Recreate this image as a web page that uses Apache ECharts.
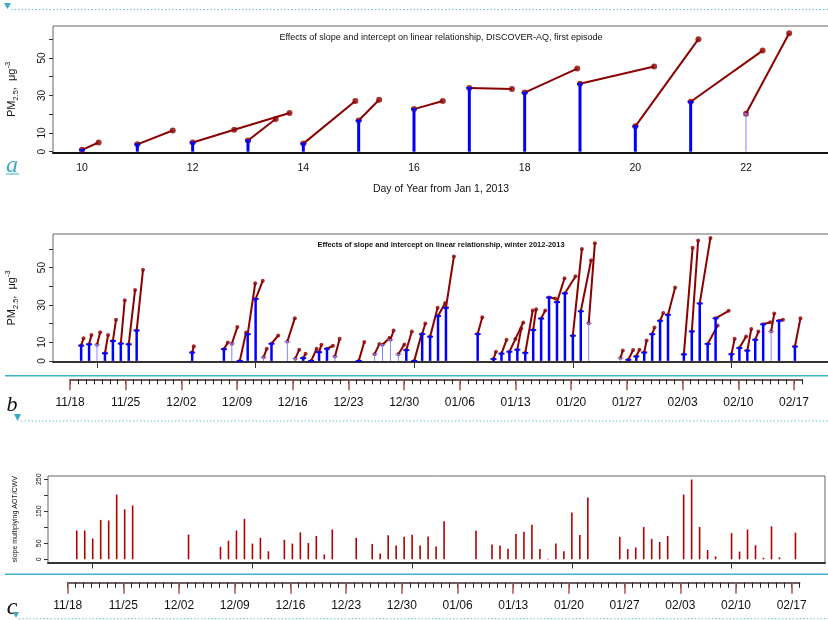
<!DOCTYPE html>
<html>
<head>
<meta charset="utf-8">
<script src="https://cdn.jsdelivr.net/npm/echarts@6/dist/echarts.min.js"></script>
<style>
  html, body { margin: 0; padding: 0; background: #fff; }
  #chart { width: 828px; height: 620px; }
</style>
</head>
<body>
<div id="chart"></div>
<script>
// days are counted from Dec 31, 2012 (day 0), so day 10 = Jan 10
const winterDays = [-42, -41, -40, -39, -38, -37, -36, -35, -28, -24, -23, -22, -21, -20, -19, -18,
  -16, -15, -14, -13, -12, -11, -10, -7, -5, -4, -3, -2, -1, 0, 1, 2, 3, 4, 8,
  10, 11, 12, 13, 14, 15, 16, 17, 18, 19, 20, 21, 22, 26, 27, 28, 29, 30, 31, 32,
  34, 35, 36, 37, 38, 40, 41, 42, 43, 44, 45, 46, 48];
// intercept (blue stems)
const winterIntercept = [8.2, 8.9, 8.6, 4.1, 10.7, 9.3, 8.9, 16.3, 4.5, 6.3, 9.2, 0, 14.3, 33.2, 2.0, 9.2,
  10.4, 1.2, 1.5, 0, 4.7, 6.5, 2.4, 0, 3.6, 8.6, 11.3, 3.5, 5.8, 0, 14.4, 13.0, 24.0, 28.5, 14.4,
  1.0, 3.9, 4.9, 6.0, 4.3, 16.6, 22.7, 34.0, 31.5, 36.2, 13.5, 26.6, 20.2, 1.5, 0.6, 2.4, 4.5, 14.3, 21.5, 24.7,
  3.5, 15.8, 30.8, 9.1, 22.8, 3.6, 6.9, 5.5, 11.3, 19.6, 15.8, 21.5, 7.7];
// last point of each red track
const winterEndDay = [-41.7, -40.7, -39.6, -38.6, -37.6, -36.5, -35.2, -34.2, -27.8, -23.5, -22.3, -21.2, -20.05, -19.1, -18.6, -17.15,
  -15.05, -14.5, -13.7, -12.3, -11.7, -10.25, -9.4, -6.3, -4.4, -3.1, -2.6, -1.25, -0.3, 0.9, 1.4, 2.95, 3.9, 5.0, 8.58,
  10.3, 11.64, 13.75, 13.5, 14.94, 15.37, 16.52, 17.77, 18.95, 20.34, 21.14, 22.3, 22.78, 26.3, 27.6, 28.4, 29.3, 30.3, 31.4, 32.9,
  35.1, 35.8, 37.35, 38.25, 39.65, 40.4, 41.85, 42.5, 43.4, 44.9, 45.4, 46.5, 48.7];
const winterEndPM = [12.1, 13.9, 15.4, 13.9, 22.1, 32.5, 38.0, 48.8, 7.9, 9.9, 18.1, 15.2, 41.6, 42.9, 6.5, 13.6,
  22.9, 6.0, 3.8, 6.5, 8.7, 8.1, 11.9, 10.1, 9.0, 12.4, 16.3, 8.8, 15.7, 14.0, 20.0, 28.5, 31.0, 56.0, 23.4,
  4.9, 11.3, 20.6, 17.4, 27.0, 27.7, 27.0, 33.4, 44.3, 45.4, 60.0, 53.9, 63.1, 5.6, 5.8, 6.0, 10.9, 17.9, 25.6, 39.3,
  60.6, 64.5, 65.9, 18.9, 26.8, 11.8, 13.1, 17.1, 15.8, 20.7, 25.4, 22.0, 22.8];
// [day, x, y] of a visible bend in a track
const bendPoints = [[12, 12.75, 11.7]];
// days drawn with a thin, light stem (few observations)
const sparseDays = [-40, -23, -19, -16, -15, -10, -5, -4, -3, -2, 22, 26, 45];
const firstEpisode = [10, 22];

// slope multiplying AOT/CWV, same days as winterDays
const slopeAOT = [90, 90, 65, 123, 121, 202, 156, 168, 77, 39, 58, 90, 126, 49, 67, 25,
  61, 49, 84, 51, 73, 15, 93, 67, 48, 18, 75, 43, 70, 77, 43, 71, 40, 119, 89,
  46, 43, 33, 79, 86, 108, 32, 2, 49, 25, 146, 76, 193, 70, 32, 37, 101, 64, 54, 73,
  202, 249, 101, 29, 9, 82, 24, 93, 44, 5, 103, 6, 83];

// tick labels
const dayTicksA = [10, 12, 14, 16, 18, 20, 22];
const winterTicks = [-40, -20, 0, 20, 40];
const pmTicks = [0, 10, 20, 30, 40, 50, 60];
const pmLabels = [0, 10, 30, 50];
const slopeTicks = [0, 50, 100, 150, 200, 250];
const slopeLabels = [0, 50, 150, 250];
const dateLabels = ['11/18', '11/25', '12/02', '12/09', '12/16', '12/23', '12/30',
  '01/06', '01/13', '01/20', '01/27', '02/03', '02/10', '02/17'];

const RED = '#8b0000';
const TEAL = '#3aabc2';
const FONT = 'Liberation Sans, Arial, sans-serif';

const weekTicks = dateLabels.map((_, i) => i * 7);
const dayIdx = [];
for (let i = 0; i <= 92; i++) dayIdx.push(i);

function stems(idx, rows, cap, normalW, normalC) {
  return {
    type: 'custom', xAxisIndex: idx, yAxisIndex: idx, silent: true, z: 5,
    data: rows,
    renderItem: function (params, api) {
      const x = api.value(0), v = api.value(1), thin = api.value(2);
      const p0 = api.coord([x, 0]), p1 = api.coord([x, v]);
      const stroke = thin ? '#8585ff' : normalC;
      const kids = [{
        type: 'line',
        shape: { x1: p0[0], y1: p0[1], x2: p1[0], y2: p1[1] },
        style: { stroke: stroke, lineWidth: thin ? 1 : normalW }
      }];
      if (cap) {
        kids.push({
          type: 'line',
          shape: { x1: p1[0] - cap, y1: p1[1], x2: p1[0] + cap, y2: p1[1] },
          style: { stroke: stroke, lineWidth: thin ? 1 : 1.8 }
        });
      }
      return { type: 'group', children: kids };
    }
  };
}

function tracks(idx, days, lw, size) {
  const lineData = [], dots = [];
  days.forEach(d => {
    const i = winterDays.indexOf(d);
    const pts = [[d, winterIntercept[i]]];
    bendPoints.filter(b => b[0] === d).forEach(b => pts.push([b[1], b[2]]));
    pts.push([winterEndDay[i], winterEndPM[i]]);
    lineData.push({ coords: pts });
    pts.forEach(p => dots.push(p));
  });
  return [{
    type: 'lines', coordinateSystem: 'cartesian2d', xAxisIndex: idx, yAxisIndex: idx,
    polyline: true, silent: true, z: 3, data: lineData,
    lineStyle: { color: RED, width: lw, opacity: 1 }
  }, {
    type: 'scatter', xAxisIndex: idx, yAxisIndex: idx, silent: true, z: 4,
    data: dots, symbolSize: size, itemStyle: { color: RED }
  }];
}

const episodeDays = winterDays.filter(d => d >= firstEpisode[0] && d <= firstEpisode[1]);
const stemRows = days => days.map(d => [d, winterIntercept[winterDays.indexOf(d)], sparseDays.includes(d) ? 1 : 0]);

const pmName = {
  name: '{m|PM}{s|2.5}{m|,  \u03bcg}{p|-3}',
  nameLocation: 'middle', nameRotate: 90, nameGap: 33,
  nameTextStyle: {
    rich: {
      m: { fontSize: 11, color: '#111', lineHeight: 16, fontFamily: FONT },
      s: { fontSize: 7.5, color: '#111', lineHeight: 16, verticalAlign: 'bottom', fontFamily: FONT },
      p: { fontSize: 7.5, color: '#111', lineHeight: 16, verticalAlign: 'top', fontFamily: FONT }
    }
  }
};

function pmAxis(idx, min, max) {
  return Object.assign({
    gridIndex: idx, type: 'value', min: min, max: max,
    axisLine: { show: false, onZero: false },
    axisTick: { customValues: pmTicks, length: 4, lineStyle: { color: '#333' } },
    axisLabel: { customValues: pmLabels, rotate: 90, fontSize: 10, color: '#111', margin: 6 },
    splitLine: { show: false }
  }, pmName);
}

function plotX(idx, min, max) {
  return {
    gridIndex: idx, type: 'value', min: min, max: max,
    axisLine: { onZero: false, lineStyle: { color: '#333', width: 2 } },
    axisTick: { customValues: winterTicks, length: 6, lineStyle: { color: '#333' } },
    axisLabel: { show: false }, splitLine: { show: false }
  };
}

function minorX(idx) {
  return {
    gridIndex: idx, type: 'value', min: 0, max: 92,
    axisLine: { onZero: false, lineStyle: { color: '#3a2a2a', width: 1.5 } },
    axisTick: { customValues: dayIdx, length: 5, lineStyle: { color: '#222' } },
    axisLabel: { show: false }, splitLine: { show: false }
  };
}

function majorX(idx) {
  return {
    gridIndex: idx, type: 'value', min: 0, max: 91,
    axisLine: { show: false, onZero: false },
    axisTick: { show: true, customValues: weekTicks, length: 11, lineStyle: { color: '#a85050', width: 1.5 } },
    axisLabel: { customValues: weekTicks, formatter: v => dateLabels[Math.round(v / 7)], fontSize: 12, color: '#111', margin: 17 },
    splitLine: { show: false }
  };
}

const hiddenY = i => ({ gridIndex: i, type: 'value', show: false, min: 0, max: 1 });
const boxGrid = { show: true, borderColor: '#666', borderWidth: 1, outerBoundsMode: 'none', containLabel: false };
const bare = { outerBoundsMode: 'none', containLabel: false };

const chart = echarts.init(document.getElementById('chart'));
chart.setOption({
  animation: false,
  textStyle: { fontFamily: FONT },
  grid: [
    Object.assign({ left: 53, top: 26, width: 776, height: 127 }, boxGrid),
    Object.assign({ left: 53, top: 234, width: 776, height: 128 }, boxGrid),
    Object.assign({ left: 48, top: 476, width: 777, height: 86.5 }, boxGrid),
    Object.assign({ left: 70, top: 369.3, width: 732, height: 10 }, bare),
    Object.assign({ left: 70, top: 369.3, width: 724, height: 10 }, bare),
    Object.assign({ left: 67.7, top: 572.7, width: 732, height: 10 }, bare),
    Object.assign({ left: 67.7, top: 572.7, width: 724, height: 10 }, bare)
  ],
  xAxis: [
    {
      gridIndex: 0, type: 'value', min: 9.476, max: 23.5,
      axisLine: { onZero: false, lineStyle: { color: '#111', width: 2 } },
      axisTick: { show: false },
      axisLabel: { customValues: dayTicksA, fontSize: 10.5, color: '#111', margin: 10 },
      splitLine: { show: false },
      name: 'Day of Year from Jan 1, 2013', nameLocation: 'middle', nameGap: 31,
      nameTextStyle: { fontSize: 10.5, color: '#111' }
    },
    plotX(1, -45.55, 52.3),
    plotX(2, -45.6, 51.7),
    minorX(3), majorX(4), minorX(5), majorX(6)
  ],
  yAxis: [
    pmAxis(0, -0.7, 67),
    pmAxis(1, -0.6, 68),
    {
      gridIndex: 2, type: 'value', min: -10, max: 260,
      axisLine: { show: false, onZero: false },
      axisTick: { customValues: slopeTicks, length: 4, lineStyle: { color: '#333' } },
      axisLabel: { customValues: slopeLabels, rotate: 90, fontSize: 7, color: '#111', margin: 5 },
      splitLine: { show: false },
      name: 'slope multiplying AOT/CWV', nameLocation: 'middle', nameRotate: 90, nameGap: 29,
      nameTextStyle: { fontSize: 7, color: '#111' }
    },
    hiddenY(3), hiddenY(4), hiddenY(5), hiddenY(6)
  ],
  series: [
    ...tracks(0, episodeDays, 2, 6),
    stems(0, stemRows(episodeDays), 3, 3, '#0000ff'),
    ...tracks(1, winterDays, 2, 4),
    stems(1, stemRows(winterDays), 3, 2.5, '#0000ff'),
    stems(2, winterDays.map((d, i) => [d, slopeAOT[i], 0]), 0, 1.6, '#b00000')
  ],
  graphic: [
    { type: 'text', x: 441, y: 38, silent: true, style: { text: 'Effects of slope and intercept on linear relationship, DISCOVER-AQ, first episode', font: '9px ' + FONT, fill: '#111', align: 'center', verticalAlign: 'middle', textAlign: 'center', textVerticalAlign: 'middle' } },
    { type: 'text', x: 441, y: 245, silent: true, style: { text: 'Effects of slope and intercept on linear relationship, winter 2012-2013', font: 'bold 7.5px ' + FONT, fill: '#111', align: 'center', verticalAlign: 'middle', textAlign: 'center', textVerticalAlign: 'middle' } },
    // panel decorations
    { type: 'polygon', silent: true, shape: { points: [[4, 3], [11, 3], [7.5, 9]] }, style: { fill: TEAL } },
    { type: 'line', silent: true, shape: { x1: 11, y1: 9.5, x2: 828, y2: 9.5 }, style: { stroke: '#6cc3cf', lineWidth: 1, lineDash: [1.5, 2] } },
    { type: 'text', x: 12, y: 166, silent: true, style: { text: 'a', font: 'italic 24px Liberation Serif, serif', fill: TEAL, align: 'center', verticalAlign: 'middle', textAlign: 'center', textVerticalAlign: 'middle' } },
    { type: 'line', silent: true, shape: { x1: 6, y1: 174, x2: 19, y2: 174 }, style: { stroke: TEAL, lineWidth: 1 } },
    { type: 'line', silent: true, shape: { x1: 5, y1: 375.7, x2: 828, y2: 375.7 }, style: { stroke: '#3db3c6', lineWidth: 1.5 } },
    { type: 'text', x: 12, y: 405, silent: true, style: { text: 'b', font: 'italic 22px Liberation Serif, serif', fill: '#111', align: 'center', verticalAlign: 'middle', textAlign: 'center', textVerticalAlign: 'middle' } },
    { type: 'polygon', silent: true, shape: { points: [[14, 414], [21, 414], [17.5, 421]] }, style: { fill: TEAL } },
    { type: 'line', silent: true, shape: { x1: 21, y1: 421, x2: 828, y2: 421 }, style: { stroke: '#6cc3cf', lineWidth: 1, lineDash: [1.5, 2] } },
    { type: 'line', silent: true, shape: { x1: 5, y1: 574.3, x2: 828, y2: 574.3 }, style: { stroke: '#3db3c6', lineWidth: 1.5 } },
    { type: 'text', x: 12, y: 608, silent: true, style: { text: 'c', font: 'italic 24px Liberation Serif, serif', fill: '#111', align: 'center', verticalAlign: 'middle', textAlign: 'center', textVerticalAlign: 'middle' } },
    { type: 'polygon', silent: true, shape: { points: [[13, 612], [19, 612], [16, 618]] }, style: { fill: TEAL } },
    { type: 'line', silent: true, shape: { x1: 19, y1: 618.7, x2: 828, y2: 618.7 }, style: { stroke: '#6cc3cf', lineWidth: 1, lineDash: [1.5, 2] } }
  ]
});
</script>
</body>
</html>
